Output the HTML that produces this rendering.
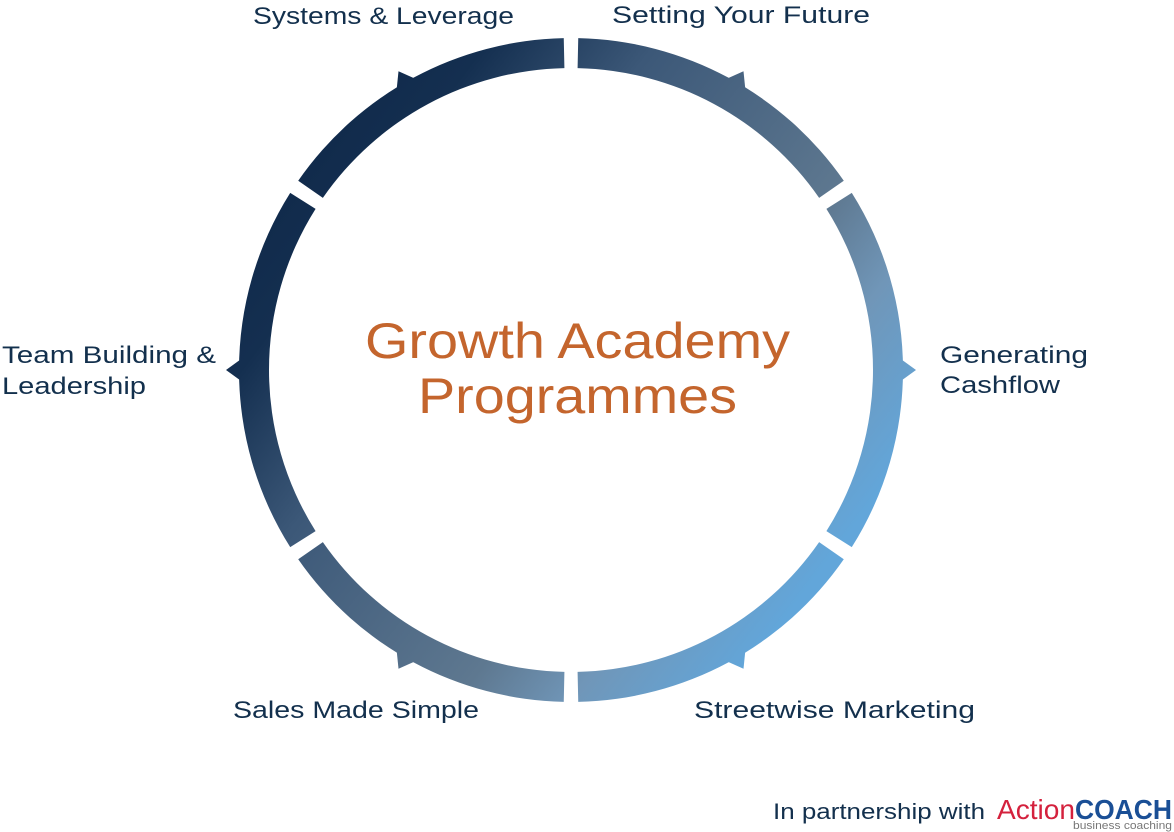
<!DOCTYPE html>
<html><head><meta charset="utf-8"><style>
html,body{margin:0;padding:0;background:#fff;width:1174px;height:832px;overflow:hidden}
text{font-family:"Liberation Sans",sans-serif}
</style></head><body>
<svg id="s" width="1174" height="832" viewBox="0 0 1174 832" xmlns="http://www.w3.org/2000/svg">
<defs>
<linearGradient id="g" gradientUnits="userSpaceOnUse" x1="280" y1="210" x2="800" y2="600">
<stop offset="0" stop-color="#112b4c"/>
<stop offset="0.1" stop-color="#142f50"/>
<stop offset="0.31" stop-color="#3c5878"/>
<stop offset="0.67" stop-color="#5e7890"/>
<stop offset="0.81" stop-color="#7096b8"/>
<stop offset="1" stop-color="#62a6da"/>
</linearGradient>
</defs>
<g id="ring"></g>
<g fill="#13304d" font-size="24">
<text x="253" y="24" textLength="261" lengthAdjust="spacingAndGlyphs">Systems &amp; Leverage</text>
<text x="612" y="23" textLength="258" lengthAdjust="spacingAndGlyphs">Setting Your Future</text>
<text x="940" y="363" textLength="148" lengthAdjust="spacingAndGlyphs">Generating</text>
<text x="940" y="393" textLength="120" lengthAdjust="spacingAndGlyphs">Cashflow</text>
<text x="2" y="363" textLength="214" lengthAdjust="spacingAndGlyphs">Team Building &amp;</text>
<text x="2" y="394" textLength="144" lengthAdjust="spacingAndGlyphs">Leadership</text>
<text x="233" y="718" textLength="246" lengthAdjust="spacingAndGlyphs">Sales Made Simple</text>
<text x="694" y="718" textLength="281" lengthAdjust="spacingAndGlyphs">Streetwise Marketing</text>
<text x="773" y="819" font-size="22" textLength="212" lengthAdjust="spacingAndGlyphs">In partnership with</text>
</g>
<g fill="#c4652d" font-size="50">
<text x="365" y="358" textLength="425" lengthAdjust="spacingAndGlyphs">Growth Academy</text>
<text x="418" y="413" textLength="319" lengthAdjust="spacingAndGlyphs">Programmes</text>
</g>
<text x="997" y="819" font-size="28" fill="#d4213d" textLength="78" lengthAdjust="spacingAndGlyphs">Action</text>
<text x="1075" y="819" font-size="28" font-weight="bold" fill="#1a4f96" textLength="97" lengthAdjust="spacingAndGlyphs">COACH</text>
<text x="1073" y="829" font-size="11" fill="#777" textLength="99" lengthAdjust="spacingAndGlyphs">business coaching</text>
</svg>
<script>
(function(){
var cx=571,cy=370,ro=332,ri=302,g=document.getElementById('ring');
function pt(r,a){var t=a*Math.PI/180;return [cx+r*Math.sin(t),cy-r*Math.cos(t)];}
var html='';
var gaps=[0,56.5,123.5,180,236.5,303.5,360];
var gap=1.25;
for(var i=0;i<6;i++){
 var a0=gaps[i]+gap,a1=gaps[i+1]-gap;
 var p1=pt(ro,a0),p2=pt(ro,a1),p3=pt(ri,a1),p4=pt(ri,a0);
 html+='<path fill="url(#g)" d="M'+p1+' A'+ro+' '+ro+' 0 0 1 '+p2+' L'+p3+' A'+ri+' '+ri+' 0 0 0 '+p4+'Z"/>';
 var m=i*60+30,b1=pt(ro-2,m-1.9),b2=pt(ro-2,m+1.9),tip=pt(ro+13,m);
 html+='<path fill="url(#g)" d="M'+b1+' L'+tip+' L'+b2+'Z"/>';
}
g.innerHTML=html;
})();
</script>
</body></html>
